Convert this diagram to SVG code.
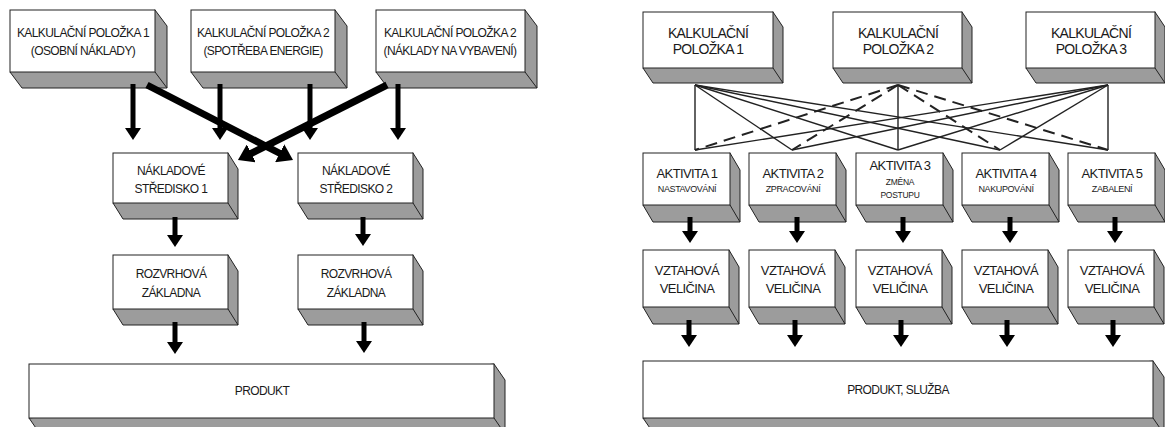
<svg xmlns="http://www.w3.org/2000/svg" width="1165" height="427" viewBox="0 0 1165 427">
<style>
.slab{fill:#9c9c9c;stroke:#222;stroke-width:1}
.face{fill:#fff;stroke:#222;stroke-width:1}
.edge{stroke:#222;stroke-width:1;fill:none}
text{font-family:"Liberation Sans",Arial,sans-serif;fill:#1a1a1a;text-anchor:middle}
.t12{font-size:12px;letter-spacing:-0.6px}
.t14{font-size:14px;letter-spacing:-0.7px}
.t13{font-size:13px;letter-spacing:-0.6px}
.t9{font-size:9px;letter-spacing:-0.4px}
.t8{font-size:8.5px;letter-spacing:-0.3px}
.arr{stroke:#000;stroke-width:5;fill:none;marker-end:url(#ah)}
.thick{stroke:#000;stroke-width:7;fill:none;marker-end:url(#ahb)}
.ln{stroke:#222;stroke-width:1.4;fill:none}
.dash{stroke:#222;stroke-width:2;fill:none;stroke-dasharray:12 7}
</style>
<defs>
<marker id="ah" markerUnits="userSpaceOnUse" markerWidth="12" markerHeight="16" refX="4" refY="8" orient="auto">
<path d="M0,0 L12,8 L0,16 z" fill="#000"/>
</marker>
<marker id="ahb" markerUnits="userSpaceOnUse" markerWidth="15" markerHeight="20" refX="6" refY="10" orient="auto">
<path d="M0,0 L15,10 L0,20 z" fill="#000"/>
</marker>
</defs>

<!-- LEFT DIAGRAM -->
<g id="b1"><polygon class="slab" points="155,10 167,26 167,88 22,88 10,72"/><line class="edge" x1="155" y1="72" x2="167" y2="88"/><rect class="face" x="10" y="10" width="145" height="62"/><text class="t12" x="83" y="37">KALKULAČNÍ POLOŽKA 1</text><text class="t12" x="83" y="55">(OSOBNÍ NÁKLADY)</text></g>
<g id="b2"><polygon class="slab" points="335,10 347,26 347,88 203,88 191,72"/><line class="edge" x1="335" y1="72" x2="347" y2="88"/><rect class="face" x="191" y="10" width="144" height="62"/><text class="t12" x="263" y="37">KALKULAČNÍ POLOŽKA 2</text><text class="t12" x="263" y="55">(SPOTŘEBA ENERGIE)</text></g>
<g id="b3"><polygon class="slab" points="525,10 537,26 537,88 388,88 376,72"/><line class="edge" x1="525" y1="72" x2="537" y2="88"/><rect class="face" x="376" y="10" width="149" height="62"/><text class="t12" x="450" y="37">KALKULAČNÍ POLOŽKA 2</text><text class="t12" x="450" y="55">(NÁKLADY NA VYBAVENÍ)</text></g>
<g id="n1"><polygon class="slab" points="228,153 238,169 238,219 123,219 113,203"/><line class="edge" x1="228" y1="203" x2="238" y2="219"/><rect class="face" x="113" y="153" width="115" height="50"/><text class="t12" x="171" y="175">NÁKLADOVÉ</text><text class="t12" x="171" y="193">STŘEDISKO 1</text></g>
<g id="n2"><polygon class="slab" points="413,153 423,169 423,219 308,219 298,203"/><line class="edge" x1="413" y1="203" x2="423" y2="219"/><rect class="face" x="298" y="153" width="115" height="50"/><text class="t12" x="356" y="175">NÁKLADOVÉ</text><text class="t12" x="356" y="193">STŘEDISKO 2</text></g>
<g id="r1"><polygon class="slab" points="228,255 238,271 238,325 123,325 113,309"/><line class="edge" x1="228" y1="309" x2="238" y2="325"/><rect class="face" x="113" y="255" width="115" height="54"/><text class="t12" x="171" y="278">ROZVRHOVÁ</text><text class="t12" x="171" y="297">ZÁKLADNA</text></g>
<g id="r2"><polygon class="slab" points="413,255 423,271 423,325 308,325 298,309"/><line class="edge" x1="413" y1="309" x2="423" y2="325"/><rect class="face" x="298" y="255" width="115" height="54"/><text class="t12" x="356" y="278">ROZVRHOVÁ</text><text class="t12" x="356" y="297">ZÁKLADNA</text></g>
<g id="produkt"><polygon class="slab" points="494,364 505,380 505,434 40,434 29,418"/><line class="edge" x1="494" y1="418" x2="505" y2="434"/><rect class="face" x="29" y="364" width="465" height="54"/><text class="t12" x="262" y="395">PRODUKT</text></g>

<!-- RIGHT DIAGRAM -->
<g id="k1"><polygon class="slab" points="773,12 783,27 783,83 653,83 643,68"/><line class="edge" x1="773" y1="68" x2="783" y2="83"/><rect class="face" x="643" y="12" width="130" height="56"/><text class="t14" x="708" y="38">KALKULAČNÍ</text><text class="t14" x="708" y="54">POLOŽKA 1</text></g>
<g id="k2"><polygon class="slab" points="962,12 972,27 972,83 843,83 833,68"/><line class="edge" x1="962" y1="68" x2="972" y2="83"/><rect class="face" x="833" y="12" width="129" height="56"/><text class="t14" x="898" y="38">KALKULAČNÍ</text><text class="t14" x="898" y="54">POLOŽKA 2</text></g>
<g id="k3"><polygon class="slab" points="1155,12 1165,27 1165,83 1036,83 1026,68"/><line class="edge" x1="1155" y1="68" x2="1165" y2="83"/><rect class="face" x="1026" y="12" width="129" height="56"/><text class="t14" x="1091" y="38">KALKULAČNÍ</text><text class="t14" x="1091" y="54">POLOŽKA 3</text></g>

<g id="a1"><polygon class="slab" points="730,153 740,170 740,222 653,222 643,205"/><line class="edge" x1="730" y1="205" x2="740" y2="222"/><rect class="face" x="643" y="153" width="87" height="52"/><text class="t13" x="687" y="178">AKTIVITA 1</text><text class="t9" x="687" y="192">NASTAVOVÁNÍ</text></g>
<g id="a2"><polygon class="slab" points="836,153 846,170 846,222 759,222 749,205"/><line class="edge" x1="836" y1="205" x2="846" y2="222"/><rect class="face" x="749" y="153" width="87" height="52"/><text class="t13" x="793" y="178">AKTIVITA 2</text><text class="t9" x="793" y="192">ZPRACOVÁNÍ</text></g>
<g id="a3"><polygon class="slab" points="943,153 953,170 953,222 866,222 856,205"/><line class="edge" x1="943" y1="205" x2="953" y2="222"/><rect class="face" x="856" y="153" width="87" height="52"/><text class="t13" x="900" y="170">AKTIVITA 3</text><text class="t8" x="900" y="185">ZMĚNA</text><text class="t8" x="900" y="198">POSTUPU</text></g>
<g id="a4"><polygon class="slab" points="1049,153 1059,170 1059,222 972,222 962,205"/><line class="edge" x1="1049" y1="205" x2="1059" y2="222"/><rect class="face" x="962" y="153" width="87" height="52"/><text class="t13" x="1006" y="178">AKTIVITA 4</text><text class="t9" x="1006" y="192">NAKUPOVÁNÍ</text></g>
<g id="a5"><polygon class="slab" points="1155,153 1165,170 1165,222 1078,222 1068,205"/><line class="edge" x1="1155" y1="205" x2="1165" y2="222"/><rect class="face" x="1068" y="153" width="87" height="52"/><text class="t13" x="1112" y="178">AKTIVITA 5</text><text class="t9" x="1112" y="192">ZABALENÍ</text></g>

<g id="v1"><polygon class="slab" points="729,250 739,267 739,324 653,324 643,307"/><line class="edge" x1="729" y1="307" x2="739" y2="324"/><rect class="face" x="643" y="250" width="86" height="57"/><text class="t13" x="687" y="275">VZTAHOVÁ</text><text class="t13" x="687" y="293">VELIČINA</text></g>
<g id="v2"><polygon class="slab" points="835,250 845,267 845,324 759,324 749,307"/><line class="edge" x1="835" y1="307" x2="845" y2="324"/><rect class="face" x="749" y="250" width="86" height="57"/><text class="t13" x="793" y="275">VZTAHOVÁ</text><text class="t13" x="793" y="293">VELIČINA</text></g>
<g id="v3"><polygon class="slab" points="942,250 952,267 952,324 866,324 856,307"/><line class="edge" x1="942" y1="307" x2="952" y2="324"/><rect class="face" x="856" y="250" width="86" height="57"/><text class="t13" x="900" y="275">VZTAHOVÁ</text><text class="t13" x="900" y="293">VELIČINA</text></g>
<g id="v4"><polygon class="slab" points="1048,250 1058,267 1058,324 972,324 962,307"/><line class="edge" x1="1048" y1="307" x2="1058" y2="324"/><rect class="face" x="962" y="250" width="86" height="57"/><text class="t13" x="1006" y="275">VZTAHOVÁ</text><text class="t13" x="1006" y="293">VELIČINA</text></g>
<g id="v5"><polygon class="slab" points="1154,250 1164,267 1164,324 1078,324 1068,307"/><line class="edge" x1="1154" y1="307" x2="1164" y2="324"/><rect class="face" x="1068" y="250" width="86" height="57"/><text class="t13" x="1112" y="275">VZTAHOVÁ</text><text class="t13" x="1112" y="293">VELIČINA</text></g>

<g id="produkt-sluzba"><polygon class="slab" points="1153,361 1164,377 1164,434 654,434 643,418"/><line class="edge" x1="1153" y1="418" x2="1164" y2="434"/><rect class="face" x="643" y="361" width="510" height="57"/><text class="t12" x="898" y="394">PRODUKT, SLUŽBA</text></g>

<g id="connectors">
<!-- left -->
<line class="arr" x1="133" y1="84" x2="133" y2="132"/>
<line class="arr" x1="220" y1="84" x2="220" y2="132"/>
<line class="arr" x1="310" y1="84" x2="310" y2="132"/>
<line class="arr" x1="398" y1="84" x2="398" y2="132"/>
<line class="thick" x1="147" y1="85" x2="285" y2="156"/>
<line class="thick" x1="387" y1="85" x2="246" y2="156"/>
<line class="arr" x1="175" y1="217" x2="175" y2="239"/>
<line class="arr" x1="363" y1="217" x2="363" y2="238"/>
<line class="arr" x1="175" y1="322" x2="175" y2="346"/>
<line class="arr" x1="364" y1="322" x2="364" y2="345"/>
<!-- right: item 1 -->
<line class="ln" x1="695" y1="85" x2="695" y2="150"/>
<line class="ln" x1="695" y1="85" x2="792" y2="150"/>
<line class="ln" x1="695" y1="85" x2="898" y2="150"/>
<line class="ln" x1="695" y1="85" x2="1000" y2="150"/>
<line class="ln" x1="695" y1="85" x2="1108" y2="150"/>
<!-- right: item 2 -->
<line class="dash" x1="898" y1="85" x2="695" y2="150"/>
<line class="dash" x1="898" y1="85" x2="792" y2="150"/>
<line class="ln" x1="898" y1="85" x2="898" y2="150"/>
<line class="dash" x1="898" y1="85" x2="1000" y2="150"/>
<line class="dash" x1="898" y1="85" x2="1108" y2="150"/>
<!-- right: item 3 -->
<line class="ln" x1="1108" y1="85" x2="695" y2="150"/>
<line class="ln" x1="1108" y1="85" x2="792" y2="150"/>
<line class="ln" x1="1108" y1="85" x2="898" y2="150"/>
<line class="ln" x1="1108" y1="85" x2="1000" y2="150"/>
<line class="ln" x1="1108" y1="85" x2="1108" y2="150"/>
<!-- right arrows -->
<line class="arr" x1="690" y1="217" x2="690" y2="235"/>
<line class="arr" x1="797" y1="217" x2="797" y2="235"/>
<line class="arr" x1="903" y1="217" x2="903" y2="235"/>
<line class="arr" x1="1010" y1="217" x2="1010" y2="235"/>
<line class="arr" x1="1115" y1="217" x2="1115" y2="235"/>
<line class="arr" x1="689" y1="320" x2="689" y2="339"/>
<line class="arr" x1="795" y1="320" x2="795" y2="339"/>
<line class="arr" x1="901" y1="320" x2="901" y2="339"/>
<line class="arr" x1="1007" y1="320" x2="1007" y2="339"/>
<line class="arr" x1="1113" y1="320" x2="1113" y2="339"/>
</g>
</svg>
